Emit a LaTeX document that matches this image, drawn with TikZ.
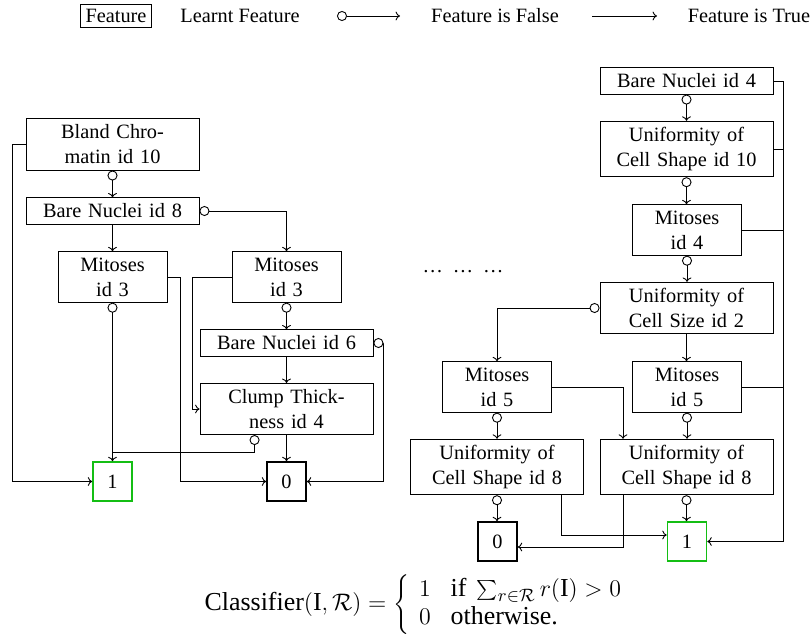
\documentclass[tikz,border=0pt]{standalone}
\usepackage{fontspec}
\setmainfont{Liberation Serif}
\usetikzlibrary{arrows.meta,calc}
\definecolor{leafgreen}{RGB}{20,190,20}
\tikzset{
  box/.style={draw, align=center, inner sep=3pt},
  wide/.style={box, text width=80.5bp-6pt+6bp},
  narrow/.style={box, text width=54.5bp-6pt},
  leaf/.style={draw, thick, minimum size=19.5bp, inner sep=0pt},
  arr/.style={-{To[length=2.2bp,width=4.4bp]}},
  farr/.style={{Circle[open,length=5bp,width=5bp]}-{To[length=2.2bp,width=4.4bp]}},
  fline/.style={{Circle[open,length=5bp,width=5bp]}-},
}
\begin{document}
\begin{tikzpicture}[x=0.5bp,y=-0.5bp,font=\fontsize{10.2}{12.5}\selectfont,line width=0.45pt]
\useasboundingbox (0,0) rectangle (812,636);
% legend
\node[draw, inner sep=2.5pt] (lgf) at (116,16) {Feature};
\node (lgl) at (240,16) {Learnt Feature};
\coordinate (lfa) at (337,16);
\coordinate (lfb) at (400,16);
\draw[farr] (lfa) -- (lfb);
\node (lgfalse) at (495,16) {Feature is False};
\coordinate (lta) at (592,16);
\coordinate (ltb) at (657,16);
\draw[arr] (lta) -- (ltb);
\node (lgtrue) at (749,16) {Feature is True};

% left tree
\node[wide] (bc) at (112.5,144.5) {Bland Chro-\\matin id 10};
\node[wide] (bn8) at (112.5,211) {Bare Nuclei id 8};
\node[narrow] (m3a) at (112.5,277) {Mitoses\\id 3};
\node[narrow] (m3b) at (286.5,277) {Mitoses\\id 3};
\node[wide] (bn6) at (286.5,343) {Bare Nuclei id 6};
\node[wide] (ct) at (286.5,409) {Clump Thick-\\ness id 4};
\node[leaf, draw=leafgreen] (one1) at (112.5,481.5) {1};
\node[leaf] (zero1) at (286.5,481.5) {0};

\coordinate (c12) at (12,0);
\coordinate (c180) at (180,0);
\coordinate (c192) at (192,0);
\coordinate (c383) at (383,0);
\coordinate (c452) at (0,452);
\coordinate (ctf) at ($(ct.south west)+(55,0)$);

\draw[farr] (bc.south) -- (bn8.north);
\draw[arr] (bc.west) -- (bc.west -| c12) |- (one1.west);
\draw[farr] (bn8.east) -| (m3b.north);
\draw[arr] (bn8.south) -- (m3a.north);
\draw[arr] (m3a.east) -- (m3a.east -| c180) |- (zero1.west);
\draw[farr] (m3a.south) -- (one1.north);
\draw[arr] (m3b.west) -- (m3b.west -| c192) |- (ct.west);
\draw[farr] (m3b.south) -- (bn6.north);
\draw[farr] (bn6.east) -- (bn6.east -| c383) |- (zero1.east);
\draw[arr] (bn6.south) -- (ct.north);
\draw[arr] (ct.south) -- (zero1.north);
\draw[fline] (ctf) -- (ctf |- c452) -- (m3a.south |- c452);

% dots
\node (dots) at (463,272) {\ldots\hspace{5bp}\ldots\hspace{5bp}\ldots};

% right tree
\node[wide] (bn4) at (686.5,81) {Bare Nuclei id 4};
\node[wide] (ucs10) at (686.5,149) {Uniformity of\\Cell Shape id 10};
\node[narrow] (m4) at (687,230) {Mitoses\\id 4};
\node[wide] (ucs2) at (686.5,308) {Uniformity of\\Cell Size id 2};
\node[narrow] (m5a) at (497,387) {Mitoses\\id 5};
\node[narrow] (m5b) at (687,387) {Mitoses\\id 5};
\node[wide] (ucs8a) at (497,467) {Uniformity of\\Cell Shape id 8};
\node[wide] (ucs8b) at (686.5,467) {Uniformity of\\Cell Shape id 8};
\node[leaf] (zero2) at (497.5,541.5) {0};
\node[leaf, draw=leafgreen] (one2) at (687,541.5) {1};

\coordinate (rr) at (783,0);
\coordinate (x561) at (561,0);
\coordinate (x623) at (623,0);
\coordinate (y535) at (0,535);
\coordinate (y547) at (0,547);

\draw[farr] (bn4.south) -- (bn4.south |- ucs10.north);
\draw[farr] (ucs10.south) -- (ucs10.south |- m4.north);
\draw[farr] (m4.south) -- (m4.south |- ucs2.north);
\draw[farr] (ucs2.west) -| (m5a.north);
\draw[arr] (ucs2.south) -- (ucs2.south |- m5b.north);
\draw[farr] (m5a.south) -- (ucs8a.north);
\draw[arr] (m5a.east) -| (ucs8b.north -| x623);
\draw[farr] (m5b.south) -- (m5b.south |- ucs8b.north);
\draw[arr] (bn4.east) -- (bn4.east -| rr) |- (one2.east);
\draw (ucs10.east) -- (ucs10.east -| rr);
\draw (m4.east) -- (m4.east -| rr);
\draw (m5b.east) -- (m5b.east -| rr);
\draw[farr] (ucs8a.south) -- (ucs8a.south |- zero2.north);
\draw[arr] (ucs8a.south -| x561) |- (one2.west |- y535);
\draw[arr] (ucs8b.south -| x623) |- (zero2.east |- y547);
\draw[farr] (ucs8b.south) -- (ucs8b.south |- one2.north);

% formula
\node[font=\fontsize{13}{15.6}\selectfont] (cls) at (419,605) {\renewcommand{\arraystretch}{0.9}$\mathrm{Classifier}(\mathrm{I},\mathcal{R})=\left\{\begin{array}{ll}1&\mbox{if }\sum_{r\in\mathcal{R}}r(\mathrm{I})>0\\0&\mbox{otherwise.}\end{array}\right.$};
\end{tikzpicture}
\end{document}
